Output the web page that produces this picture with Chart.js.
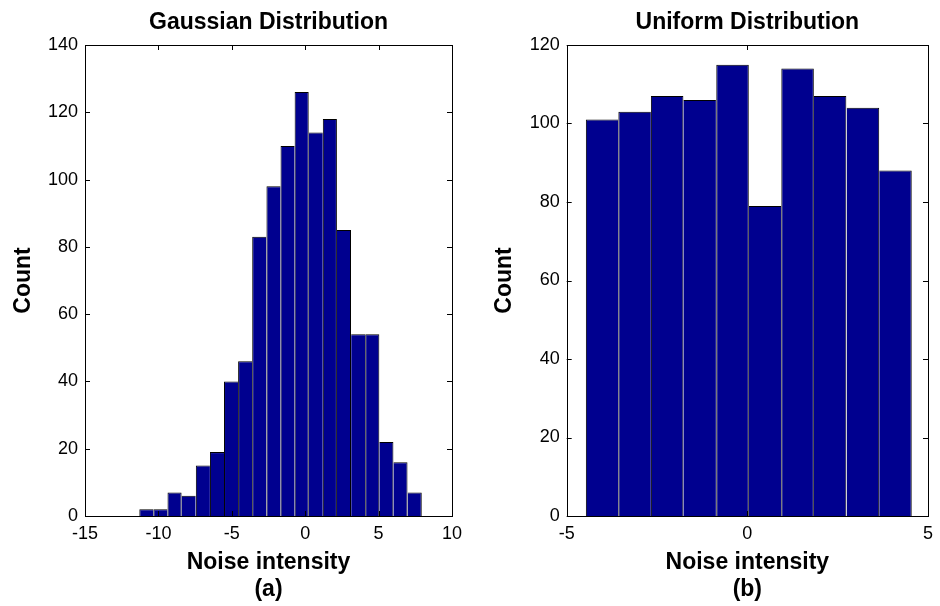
<!DOCTYPE html>
<html lang="en">
<head>
  <meta charset="UTF-8">
  <title>Noise Distributions</title>
  <script src="https://cdn.jsdelivr.net/npm/chart.js"></script>
  <style>
    body { margin: 0; background: #fff; font-family: "Liberation Sans", Arial, sans-serif; }
    #wrap { position: relative; width: 940px; height: 606px; }
    canvas { position: absolute; top: 0; }
    #gaussChart { left: 0; }
    #uniformChart { left: 470px; }
  </style>
</head>
<body>
  <div id="wrap">
    <canvas id="gaussChart" width="470" height="606"></canvas>
    <canvas id="uniformChart" width="470" height="606"></canvas>
  </div>
  <script>
    // bin centres and counts
    const gaussCenters = [-10.82, -9.86, -8.90, -7.94, -6.97, -6.01, -5.05, -4.09, -3.13, -2.16,
                          -1.20, -0.24, 0.72, 1.68, 2.64, 3.61, 4.57, 5.53, 6.49, 7.46];
    const gaussCounts = [2, 2, 7, 6, 15, 19, 40, 46, 83, 98, 110, 126, 114, 118, 85, 54, 54, 22, 16, 7];

    const uniformCenters = [-4.02, -3.12, -2.22, -1.32, -0.41, 0.49, 1.39, 2.29, 3.20, 4.10];
    const uniformCounts = [101, 103, 107, 106, 115, 79, 114, 107, 104, 88];

    const gaussXTicks = [-15, -10, -5, 0, 5, 10];
    const uniformXTicks = [-5, 0, 5];

    const BAR_COLOR = '#00008f';
    const FONT = '"Liberation Sans", Arial, sans-serif';

    // MATLAB style box with inward ticks on all four sides
    const boxTicks = {
      id: 'boxTicks',
      afterDatasetsDraw(chart) {
        const { ctx, chartArea: a, scales } = chart;
        const len = 5;
        ctx.save();
        ctx.strokeStyle = '#000';
        ctx.lineWidth = 1;
        ctx.beginPath();
        scales.x.ticks.forEach(t => {
          const px = Math.round(scales.x.getPixelForValue(t.value)) + 0.5;
          ctx.moveTo(px, a.bottom); ctx.lineTo(px, a.bottom - len);
          ctx.moveTo(px, a.top); ctx.lineTo(px, a.top + len);
        });
        scales.y.ticks.forEach(t => {
          const py = Math.round(scales.y.getPixelForValue(t.value)) + 0.5;
          ctx.moveTo(a.left, py); ctx.lineTo(a.left + len, py);
          ctx.moveTo(a.right, py); ctx.lineTo(a.right - len, py);
        });
        ctx.stroke();
        ctx.strokeRect(Math.round(a.left) + 0.5, Math.round(a.top) + 0.5,
                       Math.round(a.right - a.left), Math.round(a.bottom - a.top));
        ctx.restore();
      }
    };

    // only the taller bar of each pair draws the shared edge
    function edgeWidths(ctx) {
      const d = ctx.dataset.data;
      const i = ctx.dataIndex;
      const cur = d[i].y;
      const prev = i > 0 ? d[i - 1].y : -1;
      const next = i < d.length - 1 ? d[i + 1].y : -1;
      return { top: 1, bottom: 0, left: prev <= cur ? 1 : 0, right: next < cur ? 1 : 0 };
    }

    function makeHist(id, centers, counts, opts) {
      return new Chart(document.getElementById(id), {
        type: 'bar',
        data: {
          datasets: [{
            data: centers.map((c, i) => ({ x: c, y: counts[i] })),
            backgroundColor: BAR_COLOR,
            borderColor: '#000',
            borderWidth: edgeWidths,
            borderSkipped: false,
            inflateAmount: 0,
            barPercentage: 1,
            categoryPercentage: 1
          }]
        },
        options: {
          responsive: false,
          animation: false,
          layout: { padding: { left: 0, right: opts.padRight, top: 0, bottom: 0 } },
          plugins: {
            legend: { display: false },
            tooltip: { enabled: false },
            title: {
              display: true,
              fullSize: false,
              text: opts.title,
              color: '#000',
              font: { family: FONT, size: 23, weight: 'bold', lineHeight: 1.2 },
              padding: { top: 8.5, bottom: 8.9 }
            }
          },
          scales: {
            x: {
              type: 'linear',
              offset: false,
              min: opts.xMin,
              max: opts.xMax,
              afterBuildTicks: s => { s.ticks = opts.xTicks.map(v => ({ value: v })); },
              afterFit: s => { s.height = 90; },
              grid: { display: false, drawTicks: false },
              border: { display: false },
              ticks: { color: '#000', font: { family: FONT, size: 18 }, padding: 7, maxRotation: 0 },
              title: {
                display: true,
                text: ['Noise intensity', opts.tag],
                color: '#000',
                font: { family: FONT, size: 23, weight: 'bold', lineHeight: 1.2 },
                padding: { top: 0, bottom: 2.2 }
              }
            },
            y: {
              min: 0,
              max: opts.yMax,
              afterFit: s => { s.width = opts.yWidth; },
              grid: { display: false, drawTicks: false },
              border: { display: false },
              ticks: { stepSize: 20, color: '#000', font: { family: FONT, size: 18 }, padding: 7 },
              title: {
                display: true,
                text: 'Count',
                color: '#000',
                font: { family: FONT, size: 23, weight: 'bold', lineHeight: 1.2 },
                padding: { top: opts.yTitlePad, bottom: 0 }
              }
            }
          }
        },
        plugins: [boxTicks]
      });
    }

    makeHist('gaussChart', gaussCenters, gaussCounts, {
      title: 'Gaussian Distribution', tag: '(a)',
      xMin: -15, xMax: 10, xTicks: gaussXTicks, yMax: 140,
      yWidth: 85, yTitlePad: 10.2, padRight: 18
    });

    makeHist('uniformChart', uniformCenters, uniformCounts, {
      title: 'Uniform Distribution', tag: '(b)',
      xMin: -5, xMax: 5, xTicks: uniformXTicks, yMax: 120,
      yWidth: 96.7, yTitlePad: 21.2, padRight: 6.7
    });
  </script>
</body>
</html>
